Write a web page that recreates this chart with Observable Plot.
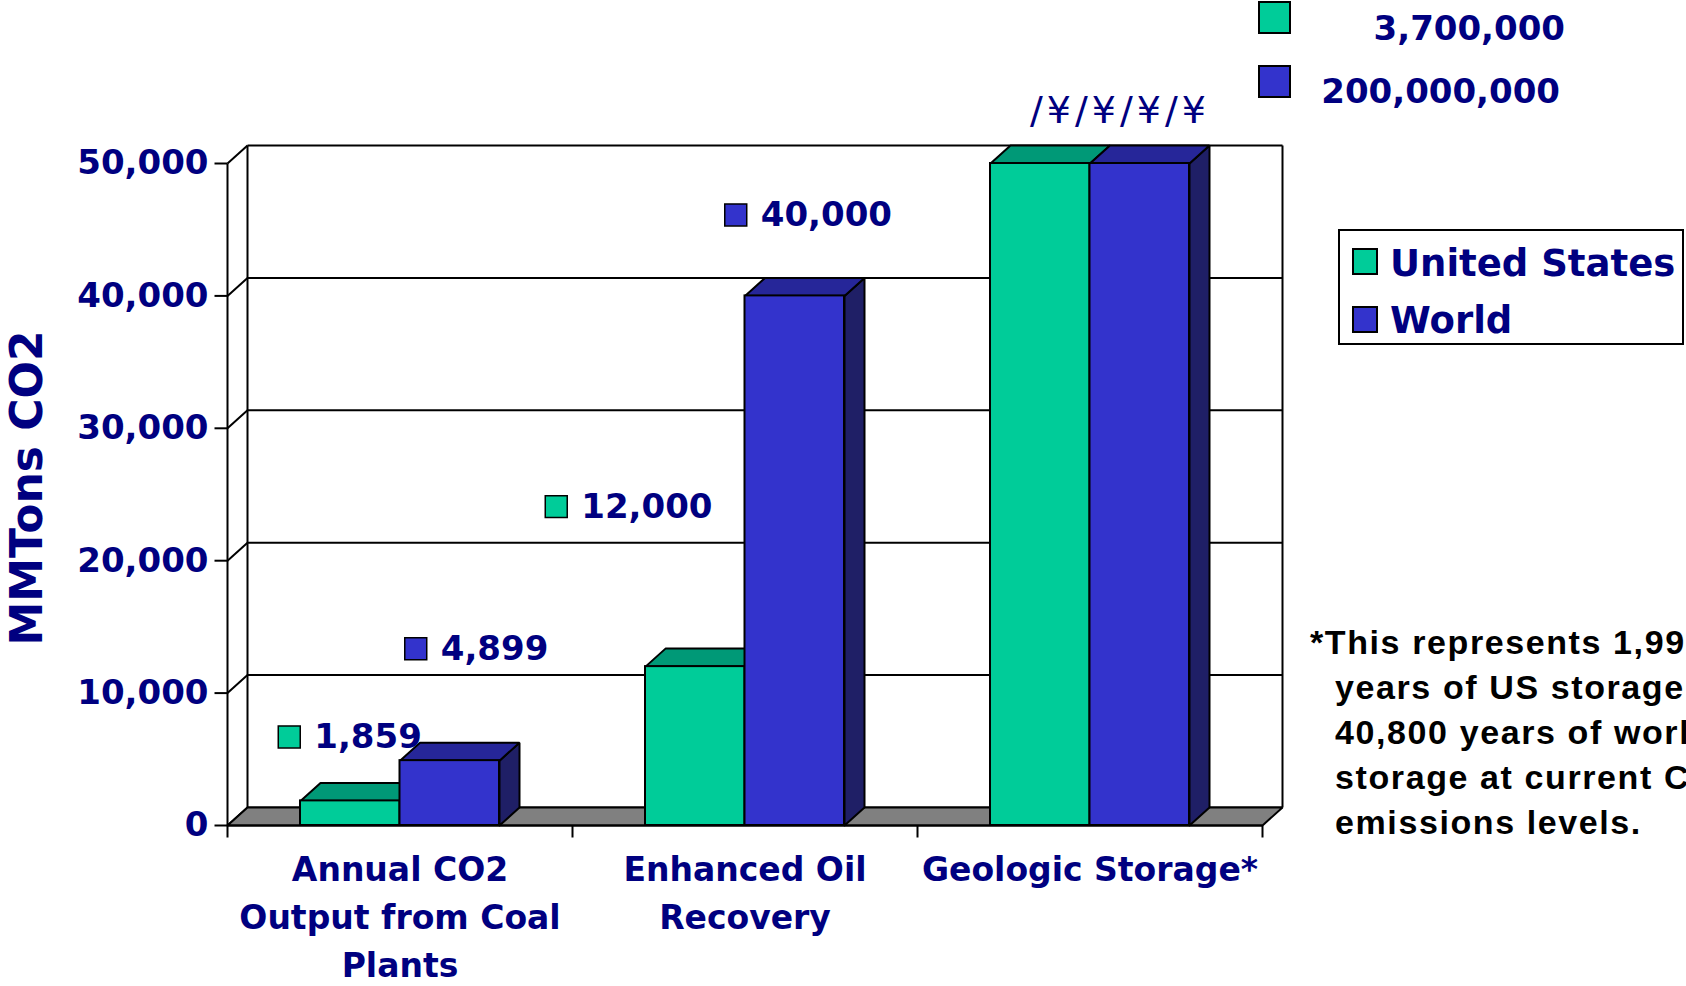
<!DOCTYPE html>
<html><head><meta charset="utf-8">
<script src="https://cdn.jsdelivr.net/npm/d3@7"></script>
<script src="https://cdn.jsdelivr.net/npm/@observablehq/plot@0.6"></script>
<style>
html,body{margin:0;padding:0;background:#fff;width:1686px;height:986px;overflow:hidden;}
#wrap{position:relative;width:1686px;height:986px;overflow:hidden;}
.ab{position:absolute;white-space:nowrap;}
.navy{color:#000080;font-family:"DejaVu Sans",sans-serif;font-weight:bold;}
.sq{position:absolute;box-sizing:border-box;border:2px solid #000;}
.foot{position:absolute;left:1310px;top:620px;font-family:"Liberation Sans",Arial,sans-serif;font-weight:bold;font-size:34px;line-height:45px;letter-spacing:1.6px;color:#000;white-space:nowrap;}
.foot div.i{padding-left:25px;}
</style></head><body><div id="wrap"></div>
<script>
// ---- data ----
const categories = ["Annual CO2\nOutput from Coal\nPlants", "Enhanced Oil\nRecovery", "Geologic Storage*"];
const seriesNames = ["United States", "World"];
const usValues = [1859, 12000, 3700000];
const worldValues = [4899, 40000, 200000000];
const yTicks = [0, 10000, 20000, 30000, 40000, 50000];
const yMax = 50000;
const yTitle = "MMTons CO2";
const breakMark = "/¥/¥/¥/¥";
const footLines = ["*This represents 1,990", "years of US storage and", "40,800 years of world", "storage at current CO2", "emissions levels."];

// ---- styles ----
const navy = "#000080";
const usFront = "#00CC99", usTop = "#009977";
const wFront = "#3333CC", wTop = "#262699", wSide = "#1F1F66";
const fmt = d3.format(",");

// ---- layout ----
const W = 1686, H = 986;
const mL = 227, mR = 424, mT = 163, mB = 161;
const pxX = (W - mL - mR) / categories.length;
const pxY = (H - mT - mB) / yMax;
const dX = 20 / pxX, dY = 18 / pxY;   // 3D depth in data units
const gap = 73 / 345;
const labelNudge = [[-61, -64], [-34, -112], [-139, -160], [-59, -81]];

const bars = [];
categories.forEach((c, i) => {
  bars.push({i, s: 0, x1: i + gap, x2: i + 0.5, v: Math.min(usValues[i], yMax), raw: usValues[i]});
  bars.push({i, s: 1, x1: i + 0.5, x2: i + 1 - gap, v: Math.min(worldValues[i], yMax), raw: worldValues[i]});
});
const usBars = bars.filter(b => b.s === 0), wBars = bars.filter(b => b.s === 1);
const polys = (rows, f) => rows.flatMap((b, k) => f(b).map(([x, y]) => ({k, x, y})));
const topFace = b => [[b.x1, b.v], [b.x2, b.v], [b.x2 + dX, b.v + dY], [b.x1 + dX, b.v + dY], [b.x1, b.v]];
const sideFace = b => [[b.x2, 0], [b.x2, b.v], [b.x2 + dX, b.v + dY], [b.x2 + dX, dY], [b.x2, 0]];
const n = categories.length;
const floor = [[0, 0], [n, 0], [n + dX, dY], [dX, dY], [0, 0]].map(([x, y]) => ({k: 0, x, y}));

const labelRows = bars.filter(b => b.raw <= yMax).map((b, j) => ({
  ...b,
  lx: (b.x1 + b.x2) / 2 + labelNudge[j][0] / pxX,
  ly: b.v - labelNudge[j][1] / pxY
}));

const poly = (data, fill) => Plot.line(data, {x: "x", y: "y", z: "k", fill, stroke: "#000", strokeWidth: 2, strokeLinejoin: "miter", curve: "linear"});

const chart = Plot.plot({
  width: W, height: H,
  marginLeft: mL, marginRight: mR, marginTop: mT, marginBottom: mB,
  x: {type: "linear", domain: [0, n], axis: null},
  y: {type: "linear", domain: [0, yMax], axis: null},
  style: {fontFamily: "DejaVu Sans", fontWeight: "bold", background: "#fff", overflow: "visible"},
  marks: [
    // back wall + side wall
    Plot.link(yTicks, {x1: dX, x2: n + dX, y1: t => t + dY, y2: t => t + dY, stroke: "#000", strokeWidth: 2}),
    Plot.link(yTicks, {x1: 0, x2: dX, y1: t => t, y2: t => t + dY, stroke: "#000", strokeWidth: 2}),
    Plot.link([0, n], {x1: d => d + dX, x2: d => d + dX, y1: dY, y2: yMax + dY, stroke: "#000", strokeWidth: 2}),
    // floor
    poly(floor, "#808080"),
    // bars
    poly(polys(usBars, topFace), usTop),
    Plot.rect(usBars, {x1: "x1", x2: "x2", y1: 0, y2: "v", fill: usFront, stroke: "#000", strokeWidth: 2}),
    poly(polys(wBars, sideFace), wSide),
    poly(polys(wBars, topFace), wTop),
    Plot.rect(wBars, {x1: "x1", x2: "x2", y1: 0, y2: "v", fill: wFront, stroke: "#000", strokeWidth: 2}),
    // front axes
    Plot.link([0], {x1: 0, x2: 0, y1: -12 / pxY, y2: yMax, stroke: "#000", strokeWidth: 2}),
    Plot.link([0], {x1: 0, x2: n, y1: 0, y2: 0, stroke: "#000", strokeWidth: 2}),
    Plot.link(d3.range(1, n + 1), {x1: d => d, x2: d => d, y1: 0, y2: -12 / pxY, stroke: "#000", strokeWidth: 2}),
    Plot.link(yTicks, {x1: -13 / pxX, x2: 0, y1: t => t, y2: t => t, stroke: "#000", strokeWidth: 2}),
    Plot.text(yTicks, {x: 0, y: t => t, dx: -19, text: t => fmt(t), textAnchor: "end", fontSize: 34, fontWeight: "bold", fill: navy}),
    // category labels
    Plot.text(categories, {x: (d, i) => i + 0.5, y: 0, dy: 21, text: d => d, lineAnchor: "top", lineHeight: 1.455, textAnchor: "middle", fontSize: 33, fontWeight: "bold", fill: navy}),
    // data labels
    Plot.dot(labelRows.filter(d => d.s === 0), {x: "lx", y: "ly", symbol: "square", r: 12.4, fill: usFront, stroke: "#000", strokeWidth: 1.5}),
    Plot.dot(labelRows.filter(d => d.s === 1), {x: "lx", y: "ly", symbol: "square", r: 12.4, fill: wFront, stroke: "#000", strokeWidth: 1.5}),
    Plot.text(labelRows, {x: "lx", y: "ly", dx: 25, text: d => fmt(d.raw), textAnchor: "start", fontSize: 34, fontWeight: "bold", fill: navy})
  ]
});
const wrap = document.getElementById("wrap");
chart.style.position = "absolute";
chart.style.left = "0px";
chart.style.top = "0px";
wrap.appendChild(chart);

// ---- html overlays ----
function add(html) { wrap.insertAdjacentHTML("beforeend", html); }
add(`<div class="ab navy" style="left:27px;top:488px;font-size:44px;line-height:1;transform:translate(-50%,-50%) rotate(-90deg);">${yTitle}</div>`);
// off-scale geologic values
const big = [usValues[2], worldValues[2]];
add(`<div class="sq" style="left:1258px;top:1px;width:33px;height:33px;background:${usFront}"></div>`);
add(`<div class="sq" style="left:1258px;top:65px;width:33px;height:33px;background:${wFront}"></div>`);
add(`<div class="ab navy" style="right:121px;top:28px;font-size:34px;line-height:1;transform:translateY(-50%);">${fmt(big[0])}</div>`);
add(`<div class="ab navy" style="right:126px;top:91px;font-size:34px;line-height:1;transform:translateY(-50%);">${fmt(big[1])}</div>`);
add(`<div class="ab" style="left:1030px;top:110px;font-family:'DejaVu Sans';font-size:38px;line-height:1;letter-spacing:4px;color:${navy};transform:translateY(-50%);">${breakMark}</div>`);
// legend
add(`<div class="ab" style="left:1338px;top:229px;width:346px;height:116px;box-sizing:border-box;border:2px solid #000;background:#fff;">
  <div class="sq" style="left:12px;top:17px;width:26px;height:27px;background:${usFront}"></div>
  <div class="ab navy" style="left:50px;top:32px;font-size:37px;line-height:1;transform:translateY(-50%);">${seriesNames[0]}</div>
  <div class="sq" style="left:12px;top:75px;width:26px;height:27px;background:${wFront}"></div>
  <div class="ab navy" style="left:50px;top:89px;font-size:37px;line-height:1;transform:translateY(-50%);">${seriesNames[1]}</div>
</div>`);
// footnote
add(`<div class="foot">${footLines.map((l, i) => `<div class="${i ? "i" : ""}">${l}</div>`).join("")}</div>`);
</script></body></html>
